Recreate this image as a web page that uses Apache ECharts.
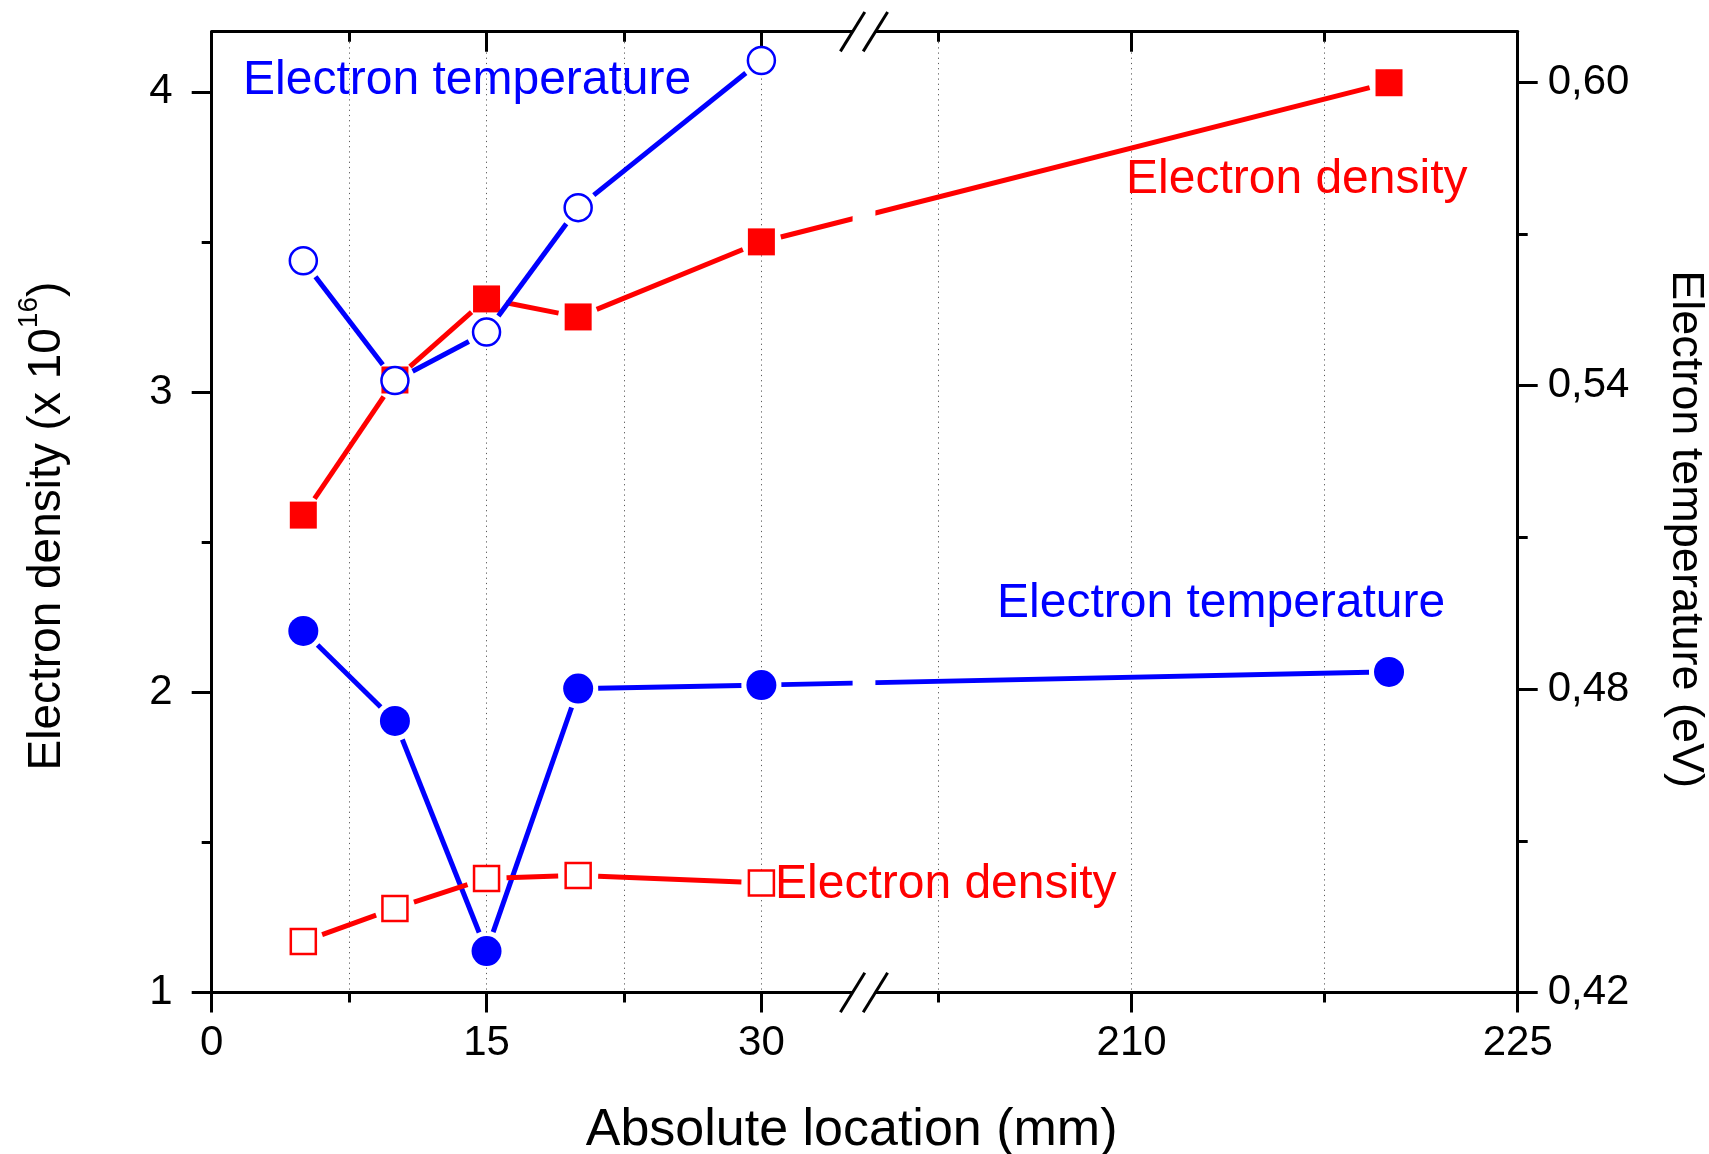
<!DOCTYPE html>
<html>
<head>
<meta charset="utf-8">
<title>Electron density and temperature vs. location</title>
<script src="https://cdn.jsdelivr.net/npm/echarts@6/dist/echarts.min.js"></script>
<style>
  html, body { margin: 0; padding: 0; background: #ffffff; }
  #chart { width: 1709px; height: 1154px; }
</style>
</head>
<body>
<div id="chart"></div>
<script>
// ---- Measured values ---------------------------------------------------
// Probe positions along the channel (mm)
const positionsFull = [5, 10, 15, 20, 30, 220];
const positionsNear = [5, 10, 15, 20, 30];

// Filled symbols: full run, including the far probe at 220 mm
const densityFilled = [2.59, 3.04, 3.31, 3.25, 3.50, 4.03];          // x 10^16
const temperatureFilled = [0.4915, 0.4737, 0.4282, 0.4801, 0.4808, 0.4834]; // eV

// Open symbols: near-source run only
const densityOpen = [1.17, 1.28, 1.38, 1.39, 1.365];                 // x 10^16
const temperatureOpen = [0.5647, 0.5410, 0.5506, 0.5752, 0.6043];    // eV

// ---- Axes ---------------------------------------------------------------
const xNearRange = [0, 35.6];
const xFarRange = [199.6, 225];
const xNearMajor = [0, 15, 30];
const xNearMinor = [7.5, 22.5];
const xFarMajor = [210, 225];
const xFarMinor = [202.5, 217.5];

const densityRange = [1, 4.2];
const densityMajor = [1, 2, 3, 4];
const densityMinor = [1.5, 2.5, 3.5];

const tempRange = [0.42, 0.61];
const tempMajor = [0.42, 0.48, 0.54, 0.60];
const tempMinor = [0.45, 0.51, 0.57];

// ---- Style / layout -----------------------------------------------------
const FONT = '"Liberation Sans", Arial, Helvetica, sans-serif';
const BLUE = '#0000ff';
const RED = '#ff0000';
const INK = '#000000';
const PLOT = { left: 211.7, right: 1517.7, top: 31.7, bottom: 992.5, breakX: 864 };
const LINE_GAP = 20;     // lines stop short of each symbol
const LINE_W = 5;
const AXIS_W = 3;

const axisLine = { show: true, onZero: false, lineStyle: { color: INK, width: AXIS_W } };
const tickStyle = { color: INK, width: AXIS_W };
const gridDots = { show: true, lineStyle: { color: '#5a5a5a', width: 1, type: [1.2, 4] } };

function bareAxis(extra) {
  return Object.assign({
    type: 'value',
    axisLine: { show: false, onZero: false },
    axisTick: { show: false },
    axisLabel: { show: false },
    splitLine: { show: false },
    axisPointer: { show: false }
  }, extra);
}

function xAxesFor(gridIndex, range, major, minor) {
  const common = { gridIndex, min: range[0], max: range[1] };
  return [
    bareAxis(Object.assign({}, common, {
      position: 'bottom',
      axisLine,
      axisTick: { show: true, inside: false, length: 20, customValues: major, lineStyle: tickStyle },
      axisLabel: { show: true, customValues: major, margin: 30, color: INK, fontSize: 42, fontFamily: FONT },
      splitLine: gridDots
    })),
    bareAxis(Object.assign({}, common, {
      position: 'bottom',
      axisTick: { show: true, inside: false, length: 10, customValues: minor, lineStyle: tickStyle },
      splitLine: gridDots
    })),
    bareAxis(Object.assign({}, common, {
      position: 'top',
      axisLine,
      axisTick: { show: true, inside: true, length: 20, customValues: major, lineStyle: tickStyle }
    })),
    bareAxis(Object.assign({}, common, {
      position: 'top',
      axisTick: { show: true, inside: true, length: 10, customValues: minor, lineStyle: tickStyle }
    }))
  ];
}

const xAxis = [].concat(
  xAxesFor(0, xNearRange, xNearMajor, xNearMinor),   // 0..3
  xAxesFor(1, xFarRange, xFarMajor, xFarMinor)        // 4..7
);

const commaFmt = v => v.toFixed(2).replace('.', ',');

const yAxis = [
  // 0: density, left side, labelled
  bareAxis({
    gridIndex: 0, position: 'left', min: densityRange[0], max: densityRange[1],
    axisLine,
    axisTick: { show: true, length: 20, customValues: densityMajor, lineStyle: tickStyle },
    axisLabel: { show: true, customValues: densityMajor, margin: 39, color: INK, fontSize: 42, fontFamily: FONT },
    name: 'Electron density (x 10{sup|16})',
    nameLocation: 'middle', nameRotate: 90, nameGap: 132,
    nameTextStyle: {
      color: INK, fontSize: 46, fontFamily: FONT, lineHeight: 64, padding: [0, 28, 0, 0],
      rich: { sup: { color: INK, fontSize: 28, lineHeight: 28, fontFamily: FONT, verticalAlign: 'top' } }
    }
  }),
  // 1: density minor ticks
  bareAxis({
    gridIndex: 0, position: 'left', min: densityRange[0], max: densityRange[1],
    axisTick: { show: true, length: 10, customValues: densityMinor, lineStyle: tickStyle }
  }),
  // 2: temperature scale for the near section
  bareAxis({ gridIndex: 0, position: 'right', min: tempRange[0], max: tempRange[1], show: false }),
  // 3: density scale for the far section
  bareAxis({ gridIndex: 1, position: 'left', min: densityRange[0], max: densityRange[1], show: false }),
  // 4: temperature, right side, labelled
  bareAxis({
    gridIndex: 1, position: 'right', min: tempRange[0], max: tempRange[1],
    axisLine,
    axisTick: { show: true, length: 20, customValues: tempMajor, lineStyle: tickStyle },
    axisLabel: { show: true, customValues: tempMajor, margin: 30, color: INK, fontSize: 42, fontFamily: FONT, formatter: commaFmt },
    name: 'Electron temperature (eV)',
    nameLocation: 'middle', nameRotate: -90, nameGap: 145,
    nameTextStyle: { color: INK, fontSize: 45, fontFamily: FONT, padding: [0, 0, 0, 34] }
  }),
  // 5: temperature minor ticks
  bareAxis({
    gridIndex: 1, position: 'right', min: tempRange[0], max: tempRange[1],
    axisTick: { show: true, length: 10, customValues: tempMinor, lineStyle: tickStyle }
  })
];

const plotHeight = PLOT.bottom - PLOT.top;
const grid = [
  { left: PLOT.left, top: PLOT.top, width: PLOT.breakX - PLOT.left, height: plotHeight, outerBoundsMode: 'none', containLabel: false },
  { left: PLOT.breakX, top: PLOT.top, width: PLOT.right - PLOT.breakX, height: plotHeight, outerBoundsMode: 'none', containLabel: false }
];

// ---- Series -------------------------------------------------------------
const datasets = [
  { id: 'neFilled', xs: positionsFull, ys: densityFilled, axis: 'density', color: RED, symbol: 'rect', size: 27, hollow: false },
  { id: 'teFilled', xs: positionsFull, ys: temperatureFilled, axis: 'temp', color: BLUE, symbol: 'circle', size: 30, hollow: false },
  { id: 'neOpen', xs: positionsNear, ys: densityOpen, axis: 'density', color: RED, symbol: 'rect', size: 25, hollow: true },
  { id: 'teOpen', xs: positionsNear, ys: temperatureOpen, axis: 'temp', color: BLUE, symbol: 'circle', size: 27, hollow: true }
];

const X_INDEX = { near: 0, far: 4 };
const Y_INDEX = { near: { density: 0, temp: 2 }, far: { density: 3, temp: 4 } };

function trim(a, b, gap) {
  const dx = b[0] - a[0], dy = b[1] - a[1];
  const d = Math.hypot(dx, dy);
  if (d <= 2 * gap) return null;
  const ux = dx / d, uy = dy / d;
  return [[a[0] + ux * gap, a[1] + uy * gap], [b[0] - ux * gap, b[1] - uy * gap]];
}

function segmentSeries(points, xi, yi, color, z) {
  const segs = [];
  for (let i = 1; i < points.length; i++) {
    segs.push([points[i - 1][0], points[i - 1][1], points[i][0], points[i][1]]);
  }
  return {
    type: 'custom', xAxisIndex: xi, yAxisIndex: yi, z, silent: true,
    data: segs,
    encode: { x: [0, 2], y: [1, 3] },
    renderItem(params, api) {
      const a = api.coord([api.value(0), api.value(1)]);
      const b = api.coord([api.value(2), api.value(3)]);
      const t = trim(a, b, LINE_GAP);
      if (!t) return null;
      return {
        type: 'line',
        shape: { x1: t[0][0], y1: t[0][1], x2: t[1][0], y2: t[1][1] },
        style: { stroke: color, lineWidth: LINE_W, lineCap: 'butt' }
      };
    }
  };
}

const series = [];
const bridges = [];
datasets.forEach((ds, k) => {
  const pts = ds.xs.map((x, i) => [x, ds.ys[i]]);
  const parts = {
    near: pts.filter(p => p[0] <= xNearRange[1]),
    far: pts.filter(p => p[0] >= xFarRange[0])
  };
  const zLine = 2 + 2 * k, zSym = 3 + 2 * k;
  ['near', 'far'].forEach(side => {
    const p = parts[side];
    if (!p.length) return;
    const xi = X_INDEX[side], yi = Y_INDEX[side][ds.axis];
    if (p.length > 1) series.push(segmentSeries(p, xi, yi, ds.color, zLine));
    series.push({
      id: ds.id + '-' + side,
      type: 'scatter', xAxisIndex: xi, yAxisIndex: yi, z: zSym, silent: true,
      data: p, symbol: ds.symbol, symbolSize: ds.size,
      itemStyle: ds.hollow
        ? { color: '#ffffff', borderColor: ds.color, borderWidth: 2.5, opacity: 1 }
        : { color: ds.color, borderWidth: 0, opacity: 1 }
    });
  });
  if (parts.near.length && parts.far.length) {
    bridges.push({ ds, z: zLine, from: parts.near[parts.near.length - 1], to: parts.far[0] });
  }
});

const chart = echarts.init(document.getElementById('chart'), null, { renderer: 'canvas' });
chart.setOption({
  animation: false,
  backgroundColor: '#ffffff',
  textStyle: { fontFamily: FONT },
  grid, xAxis, yAxis, series
});

// ---- Annotations, axis break and the line crossing the break ---------------
function label(text, x, y, color, size, align) {
  return {
    type: 'text', z: 30, silent: true,
    style: {
      text, x, y, fill: color, fontSize: size, fontFamily: FONT,
      align: align || 'left', verticalAlign: 'middle',
      textAlign: align || 'left', textVerticalAlign: 'middle'
    }
  };
}

const graphics = [];

bridges.forEach(b => {
  const a = chart.convertToPixel({ seriesId: b.ds.id + '-near' }, b.from);
  const c = chart.convertToPixel({ seriesId: b.ds.id + '-far' }, b.to);
  const t = trim(a, c, LINE_GAP);
  if (!t) return;
  graphics.push({
    type: 'line', z: b.z, silent: true,
    shape: { x1: t[0][0], y1: t[0][1], x2: t[1][0], y2: t[1][1] },
    style: { stroke: b.ds.color, lineWidth: LINE_W, lineCap: 'butt' }
  });
});

// white gap of the axis break
const gapHalf = 11.4;
graphics.push({
  type: 'rect', z: 20, silent: true,
  shape: { x: PLOT.breakX - gapHalf, y: PLOT.top - 14, width: 2 * gapHalf, height: plotHeight + 28 },
  style: { fill: '#ffffff' }
});
// double slashes on the top and bottom axis lines
[PLOT.top, PLOT.bottom].forEach(y => {
  [-gapHalf, gapHalf].forEach(off => {
    const cx = PLOT.breakX + off;
    graphics.push({
      type: 'line', z: 30, silent: true,
      shape: { x1: cx - 12.2, y1: y + 19.7, x2: cx + 12.2, y2: y - 19.7 },
      style: { stroke: INK, lineWidth: 3 }
    });
  });
});

graphics.push(label('Absolute location (mm)', 851.6, 1131, INK, 52, 'center'));
graphics.push(label('Electron temperature', 243, 81, BLUE, 48));
graphics.push(label('Electron density', 1126, 180, RED, 48));
graphics.push(label('Electron temperature', 997, 604, BLUE, 48));
graphics.push(label('Electron density', 775, 885, RED, 48));

chart.setOption({ graphic: { elements: graphics } });
</script>
</body>
</html>
